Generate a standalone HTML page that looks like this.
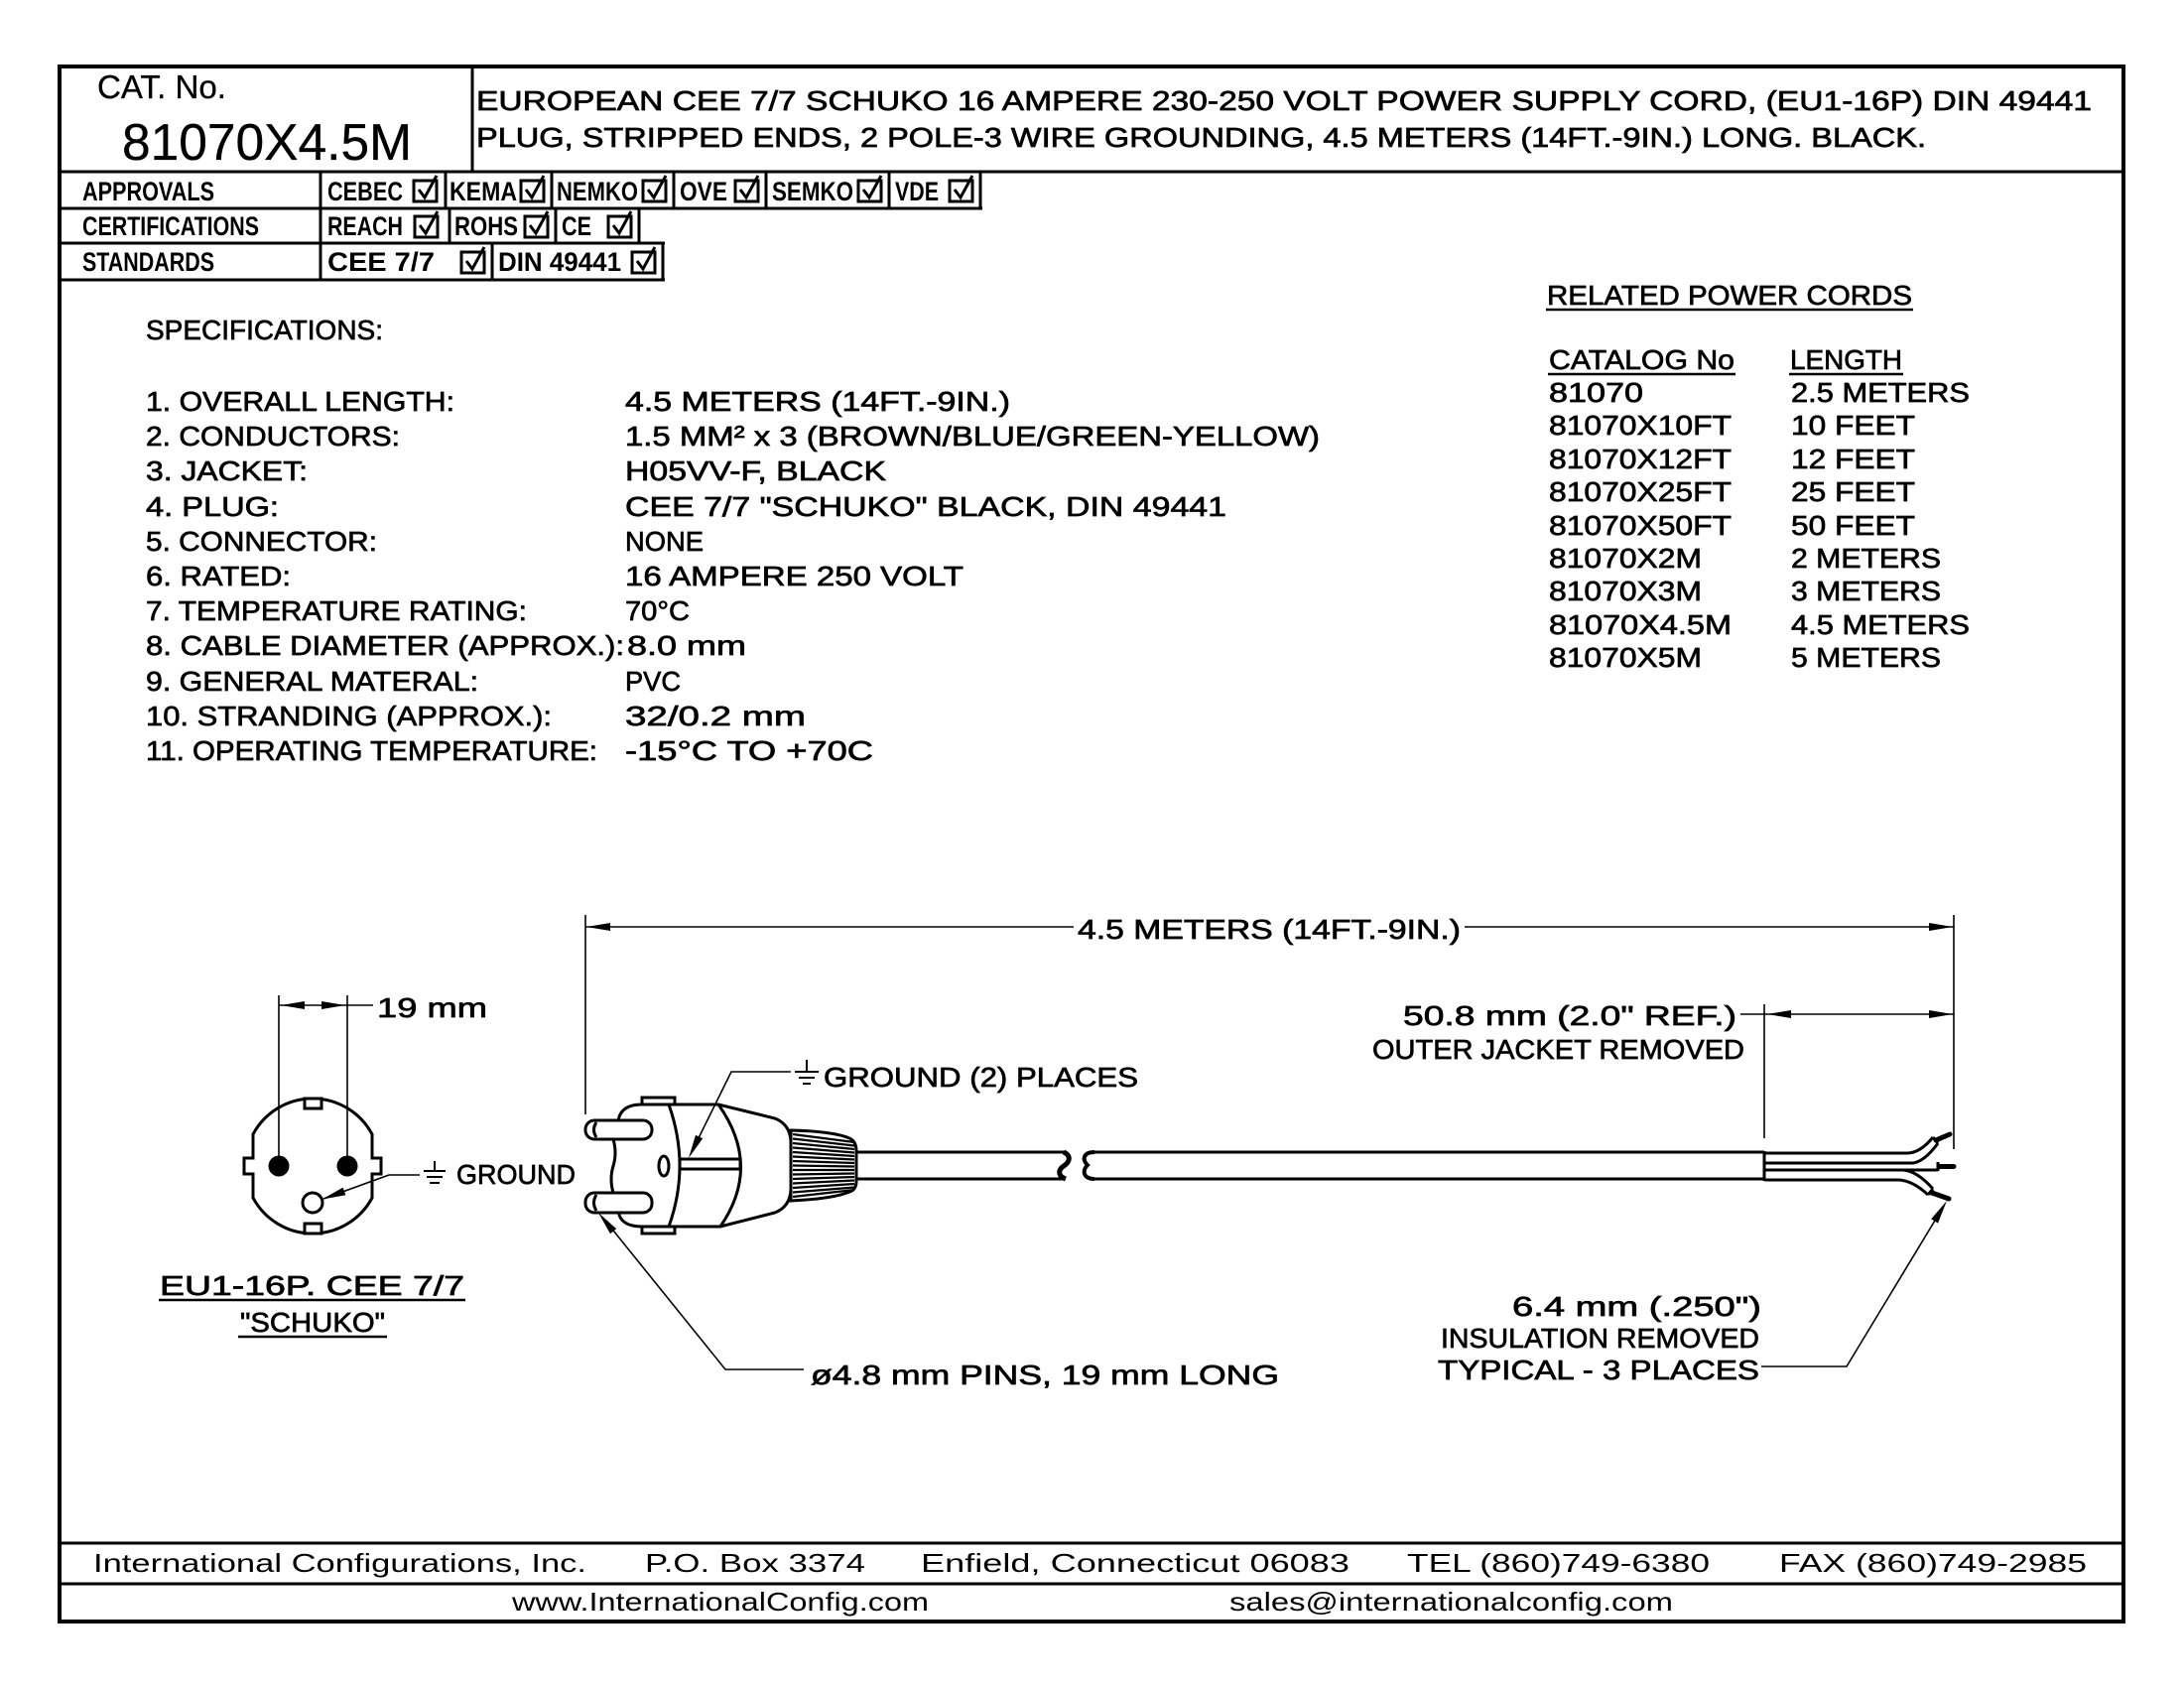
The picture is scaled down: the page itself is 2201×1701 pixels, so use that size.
<!DOCTYPE html>
<html>
<head>
<meta charset="utf-8">
<style>
html,body{margin:0;padding:0;background:#fff;}
body{width:2201px;height:1701px;overflow:hidden;}
svg{position:absolute;left:0;top:0;}
.t{font-family:"Liberation Sans",Arial,sans-serif;font-size:28px;fill:#000;stroke:#000;stroke-width:0.7px;}
.b{font-family:"Liberation Sans",Arial,sans-serif;font-size:27px;font-weight:bold;fill:#000;}
.f{font-family:"Liberation Sans",Arial,sans-serif;font-size:26px;fill:#000;}
.ln{stroke:#000;stroke-width:3;fill:none;}
.tn{stroke:#000;stroke-width:1.6;fill:none;}
.ob{stroke:#000;stroke-width:3;fill:#fff;}
</style>
</head>
<body>
<svg width="2201" height="1701" viewBox="0 0 2201 1701" xmlns="http://www.w3.org/2000/svg">
<rect x="0" y="0" width="2201" height="1701" fill="#fff"/>

<!-- outer border -->
<rect x="60" y="67" width="2080" height="1567" fill="none" stroke="#000" stroke-width="4"/>

<!-- header -->
<line class="ln" x1="60" y1="173" x2="2140" y2="173"/>
<line class="ln" x1="476" y1="67" x2="476" y2="173"/>
<text class="t" x="98" y="99" style="font-size:33px;stroke-width:0.3px" textLength="130" lengthAdjust="spacingAndGlyphs">CAT. No.</text>
<text class="t" x="123" y="161" style="font-size:52px;stroke-width:0.3px" textLength="292" lengthAdjust="spacingAndGlyphs">81070X4.5M</text>
<text class="t" x="480" y="111" textLength="1628" lengthAdjust="spacingAndGlyphs">EUROPEAN CEE 7/7 SCHUKO 16 AMPERE 230-250 VOLT POWER SUPPLY CORD, (EU1-16P) DIN 49441</text>
<text class="t" x="480" y="148" textLength="1461" lengthAdjust="spacingAndGlyphs">PLUG, STRIPPED ENDS, 2 POLE-3 WIRE GROUNDING, 4.5 METERS (14FT.-9IN.) LONG. BLACK.</text>

<!-- approvals table -->
<line class="ln" x1="60" y1="210" x2="990" y2="210"/>
<line class="ln" x1="60" y1="245" x2="670" y2="245"/>
<line class="ln" x1="60" y1="282" x2="670" y2="282"/>
<line class="ln" x1="323" y1="173" x2="323" y2="282"/>
<!-- row1 verticals -->
<line class="ln" x1="449" y1="173" x2="449" y2="210"/>
<line class="ln" x1="556" y1="173" x2="556" y2="210"/>
<line class="ln" x1="679" y1="173" x2="679" y2="210"/>
<line class="ln" x1="772" y1="173" x2="772" y2="210"/>
<line class="ln" x1="896" y1="173" x2="896" y2="210"/>
<line class="ln" x1="988" y1="173" x2="988" y2="210"/>
<!-- row2 verticals -->
<line class="ln" x1="453" y1="210" x2="453" y2="245"/>
<line class="ln" x1="560" y1="210" x2="560" y2="245"/>
<line class="ln" x1="644" y1="210" x2="644" y2="245"/>
<!-- row3 verticals -->
<line class="ln" x1="496" y1="245" x2="496" y2="282"/>
<line class="ln" x1="668" y1="245" x2="668" y2="282"/>

<text class="b" x="83" y="202" textLength="133" lengthAdjust="spacingAndGlyphs">APPROVALS</text>
<text class="b" x="83" y="237" textLength="178" lengthAdjust="spacingAndGlyphs">CERTIFICATIONS</text>
<text class="b" x="83" y="273" textLength="133" lengthAdjust="spacingAndGlyphs">STANDARDS</text>

<text class="b" x="330" y="202" textLength="76" lengthAdjust="spacingAndGlyphs">CEBEC</text>
<text class="b" x="453" y="202" textLength="68" lengthAdjust="spacingAndGlyphs">KEMA</text>
<text class="b" x="561" y="202" textLength="82" lengthAdjust="spacingAndGlyphs">NEMKO</text>
<text class="b" x="685" y="202" textLength="48" lengthAdjust="spacingAndGlyphs">OVE</text>
<text class="b" x="778" y="202" textLength="82" lengthAdjust="spacingAndGlyphs">SEMKO</text>
<text class="b" x="902" y="202" textLength="44" lengthAdjust="spacingAndGlyphs">VDE</text>
<text class="b" x="330" y="237" textLength="76" lengthAdjust="spacingAndGlyphs">REACH</text>
<text class="b" x="458" y="237" textLength="64" lengthAdjust="spacingAndGlyphs">ROHS</text>
<text class="b" x="566" y="237" textLength="30" lengthAdjust="spacingAndGlyphs">CE</text>
<text class="b" x="330" y="273" textLength="108" lengthAdjust="spacingAndGlyphs">CEE 7/7</text>
<text class="b" x="502" y="273" textLength="124" lengthAdjust="spacingAndGlyphs">DIN 49441</text>

<!-- checkboxes -->
<g stroke="#000" stroke-width="3" fill="none">
  <g transform="translate(417,182)"><rect x="0" y="0" width="23" height="21"/><path d="M5,9 L11,17 L23,-5"/></g>
  <g transform="translate(525,182)"><rect x="0" y="0" width="23" height="21"/><path d="M5,9 L11,17 L23,-5"/></g>
  <g transform="translate(648,182)"><rect x="0" y="0" width="23" height="21"/><path d="M5,9 L11,17 L23,-5"/></g>
  <g transform="translate(741,182)"><rect x="0" y="0" width="23" height="21"/><path d="M5,9 L11,17 L23,-5"/></g>
  <g transform="translate(865,182)"><rect x="0" y="0" width="23" height="21"/><path d="M5,9 L11,17 L23,-5"/></g>
  <g transform="translate(957,182)"><rect x="0" y="0" width="23" height="21"/><path d="M5,9 L11,17 L23,-5"/></g>
  <g transform="translate(418,218)"><rect x="0" y="0" width="23" height="21"/><path d="M5,9 L11,17 L23,-5"/></g>
  <g transform="translate(529,218)"><rect x="0" y="0" width="23" height="21"/><path d="M5,9 L11,17 L23,-5"/></g>
  <g transform="translate(613,218)"><rect x="0" y="0" width="23" height="21"/><path d="M5,9 L11,17 L23,-5"/></g>
  <g transform="translate(465,254)"><rect x="0" y="0" width="23" height="21"/><path d="M5,9 L11,17 L23,-5"/></g>
  <g transform="translate(637,254)"><rect x="0" y="0" width="23" height="21"/><path d="M5,9 L11,17 L23,-5"/></g>
</g>

<!-- specifications -->
<text class="t" x="147" y="342" textLength="239" lengthAdjust="spacingAndGlyphs">SPECIFICATIONS:</text>
<text class="t" x="147" y="414" textLength="311" lengthAdjust="spacingAndGlyphs">1. OVERALL LENGTH:</text>
<text class="t" x="147" y="449" textLength="256" lengthAdjust="spacingAndGlyphs">2. CONDUCTORS:</text>
<text class="t" x="147" y="484" textLength="163" lengthAdjust="spacingAndGlyphs">3. JACKET:</text>
<text class="t" x="147" y="520" textLength="134" lengthAdjust="spacingAndGlyphs">4. PLUG:</text>
<text class="t" x="147" y="555" textLength="233" lengthAdjust="spacingAndGlyphs">5. CONNECTOR:</text>
<text class="t" x="147" y="590" textLength="146" lengthAdjust="spacingAndGlyphs">6. RATED:</text>
<text class="t" x="147" y="625" textLength="384" lengthAdjust="spacingAndGlyphs">7. TEMPERATURE RATING:</text>
<text class="t" x="147" y="660" textLength="482" lengthAdjust="spacingAndGlyphs">8. CABLE DIAMETER (APPROX.):</text>
<text class="t" x="147" y="696" textLength="335" lengthAdjust="spacingAndGlyphs">9. GENERAL MATERAL:</text>
<text class="t" x="147" y="731" textLength="409" lengthAdjust="spacingAndGlyphs">10. STRANDING (APPROX.):</text>
<text class="t" x="147" y="766" textLength="455" lengthAdjust="spacingAndGlyphs">11. OPERATING TEMPERATURE:</text>

<text class="t" x="630" y="414" textLength="388" lengthAdjust="spacingAndGlyphs">4.5 METERS (14FT.-9IN.)</text>
<text class="t" x="630" y="449" textLength="700" lengthAdjust="spacingAndGlyphs">1.5 MM² x 3 (BROWN/BLUE/GREEN-YELLOW)</text>
<text class="t" x="630" y="484" textLength="263" lengthAdjust="spacingAndGlyphs">H05VV-F, BLACK</text>
<text class="t" x="630" y="520" textLength="606" lengthAdjust="spacingAndGlyphs">CEE 7/7 &quot;SCHUKO&quot; BLACK, DIN 49441</text>
<text class="t" x="630" y="555" textLength="79" lengthAdjust="spacingAndGlyphs">NONE</text>
<text class="t" x="630" y="590" textLength="341" lengthAdjust="spacingAndGlyphs">16 AMPERE 250 VOLT</text>
<text class="t" x="630" y="625" textLength="65" lengthAdjust="spacingAndGlyphs">70°C</text>
<text class="t" x="632" y="660" textLength="120" lengthAdjust="spacingAndGlyphs">8.0 mm</text>
<text class="t" x="630" y="696" textLength="56" lengthAdjust="spacingAndGlyphs">PVC</text>
<text class="t" x="630" y="731" textLength="182" lengthAdjust="spacingAndGlyphs">32/0.2 mm</text>
<text class="t" x="630" y="766" textLength="250" lengthAdjust="spacingAndGlyphs">-15°C TO +70C</text>

<!-- related power cords -->
<text class="t" x="1559" y="307" textLength="368" lengthAdjust="spacingAndGlyphs">RELATED POWER CORDS</text>
<line x1="1558" y1="312" x2="1928" y2="312" stroke="#000" stroke-width="2.5"/>
<text class="t" x="1561" y="372" textLength="187" lengthAdjust="spacingAndGlyphs">CATALOG No</text>
<line x1="1560" y1="377" x2="1749" y2="377" stroke="#000" stroke-width="2.5"/>
<text class="t" x="1804" y="372" textLength="113" lengthAdjust="spacingAndGlyphs">LENGTH</text>
<line x1="1803" y1="377" x2="1918" y2="377" stroke="#000" stroke-width="2.5"/>

<text class="t" x="1561" y="405" textLength="95" lengthAdjust="spacingAndGlyphs">81070</text>
<text class="t" x="1561" y="438" textLength="184" lengthAdjust="spacingAndGlyphs">81070X10FT</text>
<text class="t" x="1561" y="472" textLength="184" lengthAdjust="spacingAndGlyphs">81070X12FT</text>
<text class="t" x="1561" y="505" textLength="184" lengthAdjust="spacingAndGlyphs">81070X25FT</text>
<text class="t" x="1561" y="539" textLength="184" lengthAdjust="spacingAndGlyphs">81070X50FT</text>
<text class="t" x="1561" y="572" textLength="154" lengthAdjust="spacingAndGlyphs">81070X2M</text>
<text class="t" x="1561" y="605" textLength="154" lengthAdjust="spacingAndGlyphs">81070X3M</text>
<text class="t" x="1561" y="639" textLength="184" lengthAdjust="spacingAndGlyphs">81070X4.5M</text>
<text class="t" x="1561" y="672" textLength="154" lengthAdjust="spacingAndGlyphs">81070X5M</text>

<text class="t" x="1805" y="405" textLength="180" lengthAdjust="spacingAndGlyphs">2.5 METERS</text>
<text class="t" x="1805" y="438" textLength="125" lengthAdjust="spacingAndGlyphs">10 FEET</text>
<text class="t" x="1805" y="472" textLength="125" lengthAdjust="spacingAndGlyphs">12 FEET</text>
<text class="t" x="1805" y="505" textLength="125" lengthAdjust="spacingAndGlyphs">25 FEET</text>
<text class="t" x="1805" y="539" textLength="125" lengthAdjust="spacingAndGlyphs">50 FEET</text>
<text class="t" x="1805" y="572" textLength="151" lengthAdjust="spacingAndGlyphs">2 METERS</text>
<text class="t" x="1805" y="605" textLength="151" lengthAdjust="spacingAndGlyphs">3 METERS</text>
<text class="t" x="1805" y="639" textLength="180" lengthAdjust="spacingAndGlyphs">4.5 METERS</text>
<text class="t" x="1805" y="672" textLength="151" lengthAdjust="spacingAndGlyphs">5 METERS</text>

<!-- ================= FACE VIEW ================= -->
<line class="tn" x1="281" y1="1003" x2="281" y2="1165"/>
<line class="tn" x1="350" y1="1003" x2="350" y2="1165"/>
<line class="tn" x1="281" y1="1013" x2="376" y2="1013"/>
<polygon points="283,1013 307,1009 307,1017" fill="#000"/>
<polygon points="348,1013 324,1009 324,1017" fill="#000"/>
<text class="t" x="380" y="1025" textLength="111" lengthAdjust="spacingAndGlyphs">19 mm</text>

<path class="ln" d="M255,1143 L255,1167 L246,1167 L246,1183 L255,1183 L255,1207 A68,68 0 0 0 375,1207 L375,1183 L384,1183 L384,1167 L375,1167 L375,1143 A68,68 0 0 0 255,1143 Z"/>
<rect class="ob" x="307" y="1107" width="17" height="10"/>
<rect class="ob" x="307" y="1233" width="17" height="10"/>
<circle cx="281" cy="1175" r="10.5" fill="#000"/>
<circle cx="350" cy="1175" r="10.5" fill="#000"/>
<circle cx="315" cy="1212" r="10" fill="#fff" stroke="#000" stroke-width="3"/>
<!-- ground leader -->
<polyline class="tn" points="326,1208 392,1184 423,1184"/>
<polygon points="324.4,1208.6 348.4,1204.2 345.6,1196.6" fill="#000"/>
<g stroke="#000" stroke-width="2">
  <line x1="438" y1="1170" x2="438" y2="1180"/>
  <line x1="427" y1="1180" x2="449" y2="1180"/>
  <line x1="430" y1="1186" x2="446" y2="1186"/>
  <line x1="433" y1="1192" x2="443" y2="1192"/>
</g>
<text class="t" x="460" y="1193" textLength="120" lengthAdjust="spacingAndGlyphs">GROUND</text>

<text class="t" x="161" y="1305" textLength="307" lengthAdjust="spacingAndGlyphs">EU1-16P. CEE 7/7</text>
<line x1="160" y1="1310" x2="469" y2="1310" stroke="#000" stroke-width="2.5"/>
<text class="t" x="242" y="1342" textLength="146" lengthAdjust="spacingAndGlyphs">&quot;SCHUKO&quot;</text>
<line x1="240" y1="1347" x2="390" y2="1347" stroke="#000" stroke-width="2.5"/>

<!-- ================= OVERALL DIMENSION ================= -->
<line class="tn" x1="590" y1="922" x2="590" y2="1123"/>
<line class="tn" x1="1969" y1="922" x2="1969" y2="1158"/>
<line class="tn" x1="590" y1="934" x2="1082" y2="934"/>
<line class="tn" x1="1476" y1="934" x2="1969" y2="934"/>
<polygon points="591,934 615,930 615,938" fill="#000"/>
<polygon points="1968,934 1944,930 1944,938" fill="#000"/>
<text class="t" x="1086" y="946" textLength="386" lengthAdjust="spacingAndGlyphs">4.5 METERS (14FT.-9IN.)</text>

<!-- ================= SIDE VIEW PLUG ================= -->
<!-- body -->
<path class="ob" d="M623,1130 Q625,1113 647,1113 L647,1106 L680,1106 L680,1113 L724,1113 L781,1127 Q796,1133 797,1150 L797,1199 Q796,1216 781,1222 L726,1236 L680,1236 L680,1243 L647,1243 L647,1236 Q625,1236 623,1220 L618,1202 Q614,1188 618,1175 Q622,1162 618,1148 Z"/>
<line class="ln" x1="647" y1="1113" x2="680" y2="1113"/>
<line class="ln" x1="647" y1="1236" x2="680" y2="1236"/>
<path class="ln" d="M674,1113 Q696,1175 674,1236"/>
<path class="ln" d="M724,1113 Q768,1175 726,1236"/>
<rect class="ob" x="685" y="1168" width="61" height="10"/>
<ellipse cx="669" cy="1175" rx="5" ry="10" fill="#fff" stroke="#000" stroke-width="3"/>
<!-- pins -->
<rect class="ob" x="590" y="1129" width="67" height="19" rx="9"/>
<path class="ln" d="M601,1131 Q596,1138.5 601,1146"/>
<rect class="ob" x="590" y="1202" width="67" height="20" rx="9"/>
<path class="ln" d="M601,1204 Q596,1212 601,1220"/>
<!-- strain relief -->
<path class="ob" d="M797,1139 Q840,1140 856,1147 Q863,1150 863,1160 L863,1190 Q863,1199 856,1201 Q840,1208 797,1210 Z"/>
<g stroke="#000" stroke-width="2.2">
  <line x1="799" y1="1143" x2="861" y2="1151"/>
  <line x1="799" y1="1147.5" x2="861" y2="1154.5"/>
  <line x1="799" y1="1152" x2="861" y2="1158"/>
  <line x1="799" y1="1156.5" x2="861" y2="1161.5"/>
  <line x1="799" y1="1161" x2="861" y2="1165"/>
  <line x1="799" y1="1165.5" x2="861" y2="1168.5"/>
  <line x1="799" y1="1170" x2="861" y2="1172"/>
  <line x1="799" y1="1174.5" x2="861" y2="1175.5"/>
  <line x1="799" y1="1179" x2="861" y2="1179"/>
  <line x1="799" y1="1183.5" x2="861" y2="1182.5"/>
  <line x1="799" y1="1188" x2="861" y2="1186"/>
  <line x1="799" y1="1192.5" x2="861" y2="1189.5"/>
  <line x1="799" y1="1197" x2="861" y2="1193"/>
  <line x1="799" y1="1201.5" x2="861" y2="1196.5"/>
  <line x1="799" y1="1206" x2="861" y2="1199"/>
</g>
<!-- cord segment 1 -->
<line class="ln" x1="863" y1="1161" x2="1073" y2="1161"/>
<line class="ln" x1="863" y1="1188" x2="1073" y2="1188"/>
<path d="M1072,1161 C1080,1165 1078,1171 1072,1175 C1066,1179 1066,1185 1074,1188" stroke="#000" stroke-width="5" fill="none"/>
<!-- cord segment 2 -->
<path d="M1103,1161 C1092,1161 1090,1168 1096,1174 C1090,1180 1092,1188 1103,1188" stroke="#000" stroke-width="4" fill="none"/>
<line class="ln" x1="1100" y1="1161" x2="1778" y2="1161"/>
<line class="ln" x1="1100" y1="1188" x2="1778" y2="1188"/>
<line class="ln" x1="1778" y1="1160" x2="1778" y2="1190"/>

<!-- wires -->
<g stroke="#000" stroke-width="3" fill="none">
  <path d="M1778,1162 L1922,1162 Q1935,1162 1948,1146"/>
  <path d="M1778,1172 L1928,1172 Q1940,1170 1953,1152"/>
  <line x1="1948" y1="1146" x2="1953" y2="1152"/>
  <line x1="1778" y1="1179" x2="1953" y2="1179"/>
  <line x1="1953" y1="1171" x2="1953" y2="1180"/>
  <path d="M1778,1179 L1918,1179 Q1932,1180 1948,1198"/>
  <path d="M1778,1189 L1914,1189 Q1928,1190 1943,1204"/>
  <line x1="1948" y1="1198" x2="1943" y2="1204"/>
</g>
<g stroke="#000" stroke-width="5" stroke-linecap="round">
  <line x1="1951" y1="1149" x2="1965" y2="1143"/>
  <line x1="1954" y1="1175.5" x2="1969" y2="1175.5"/>
  <line x1="1947" y1="1202" x2="1964" y2="1208"/>
</g>

<!-- 50.8 dim -->
<line class="tn" x1="1778" y1="1012" x2="1778" y2="1147"/>
<line class="tn" x1="1754" y1="1022" x2="1969" y2="1022"/>
<polygon points="1781,1022 1805,1018 1805,1026" fill="#000"/>
<polygon points="1968,1022 1944,1018 1944,1026" fill="#000"/>
<text class="t" x="1414" y="1033" textLength="336" lengthAdjust="spacingAndGlyphs">50.8 mm (2.0&quot; REF.)</text>
<text class="t" x="1383" y="1067" textLength="375" lengthAdjust="spacingAndGlyphs">OUTER JACKET REMOVED</text>

<!-- ground (2) places -->
<polyline class="tn" points="797,1080 737,1080 698,1159"/>
<polygon points="694,1167 708.2,1147.3 701,1143.7" fill="#000"/>
<g stroke="#000" stroke-width="2">
  <line x1="813" y1="1068" x2="813" y2="1080"/>
  <line x1="801" y1="1080" x2="825" y2="1080"/>
  <line x1="805" y1="1086" x2="821" y2="1086"/>
  <line x1="809" y1="1092" x2="817" y2="1092"/>
</g>
<text class="t" x="830" y="1095" textLength="317" lengthAdjust="spacingAndGlyphs">GROUND (2) PLACES</text>

<!-- pins leader -->
<polyline class="tn" points="810,1380 731,1380 610,1230"/>
<polygon points="603,1222 621.2,1238.2 615,1243.2" fill="#000"/>
<text class="t" x="817" y="1395" textLength="472" lengthAdjust="spacingAndGlyphs">ø4.8 mm PINS, 19 mm LONG</text>

<!-- 6.4 leader -->
<polyline class="tn" points="1775,1377 1861,1377 1956,1220"/>
<polygon points="1962,1210 1953,1232.6 1946.2,1228.4" fill="#000"/>
<text class="t" x="1524" y="1326" textLength="251" lengthAdjust="spacingAndGlyphs">6.4 mm (.250&quot;)</text>
<text class="t" x="1452" y="1358" textLength="321" lengthAdjust="spacingAndGlyphs">INSULATION REMOVED</text>
<text class="t" x="1449" y="1390" textLength="324" lengthAdjust="spacingAndGlyphs">TYPICAL - 3 PLACES</text>

<!-- footer -->
<line class="ln" x1="60" y1="1555" x2="2140" y2="1555"/>
<line class="ln" x1="60" y1="1596" x2="2140" y2="1596"/>
<text class="f" x="94" y="1584" textLength="497" lengthAdjust="spacingAndGlyphs">International Configurations, Inc.</text>
<text class="f" x="650" y="1584" textLength="222" lengthAdjust="spacingAndGlyphs">P.O. Box 3374</text>
<text class="f" x="928" y="1584" textLength="432" lengthAdjust="spacingAndGlyphs">Enfield, Connecticut 06083</text>
<text class="f" x="1418" y="1584" textLength="305" lengthAdjust="spacingAndGlyphs">TEL (860)749-6380</text>
<text class="f" x="1793" y="1584" textLength="310" lengthAdjust="spacingAndGlyphs">FAX (860)749-2985</text>
<text class="f" x="516" y="1623" textLength="420" lengthAdjust="spacingAndGlyphs">www.InternationalConfig.com</text>
<text class="f" x="1239" y="1623" textLength="447" lengthAdjust="spacingAndGlyphs">sales@internationalconfig.com</text>
</svg>
</body>
</html>
